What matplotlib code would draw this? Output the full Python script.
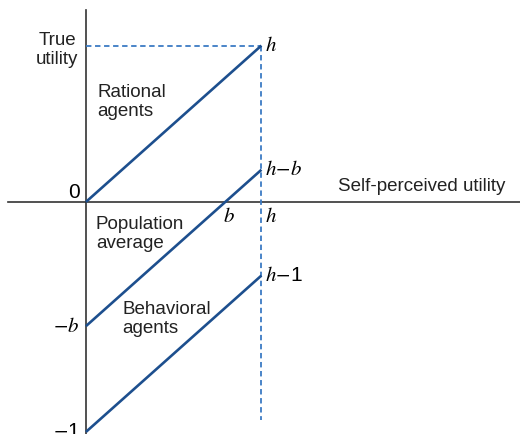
import matplotlib.pyplot as plt
import numpy as np

plt.rcParams['font.family'] = ['Liberation Sans', 'DejaVu Sans']
plt.rcParams['mathtext.fontset'] = 'stix'

# valores do modelo
h = 0.68
b = 0.54
grupos = ['Rational\nagents', 'Population\naverage', 'Behavioral\nagents']
interceptos = [0.0, -b, -1.0]
rotulos_fim = [r'$h$', r'$h\!-\!b$', r'$h\!-\!$1']
rotulos_eixo_y = [r'0', r'$-b$', r'$-$1']
pos_grupos = [(0.043, 0.435), (0.039, -0.139), (0.14, -0.509)]

azul = '#1d4f8e'
azul_tr = '#3b7bc4'
cinza = '#333333'

fig = plt.figure(figsize=(5.2, 4.34), dpi=100)
ax = fig.add_axes([0, 0, 1, 1])
ax.set_xlim(-0.333, 1.682)
ax.set_ylim(-1.009, 0.878)
ax.axis('off')

# eixos
ax.plot([-0.302, 1.682], [0, 0], color=cinza, lw=1.2)
ax.plot([0, 0], [-1.009, 0.835], color=cinza, lw=1.2)

# linhas tracejadas
ax.plot([0, h], [h, h], color=azul_tr, lw=1.3, ls=(0, (3, 2)))
ax.plot([h, h], [h, -0.948], color=azul_tr, lw=1.3, ls=(0, (3, 2)))

# retas
x = np.array([0, h])
for c in interceptos:
    ax.plot(x, x + c, color=azul, lw=1.9, solid_capstyle='butt')

for c, lab in zip(interceptos, rotulos_fim):
    ax.text(h + 0.015, h + c, lab, fontsize=15, ha='left', va='center')

for c, lab in zip(interceptos, rotulos_eixo_y):
    ax.text(-0.025, c, lab, fontsize=15, ha='right',
            va='bottom' if c == 0 else 'center')

for (gx, gy), g in zip(pos_grupos, grupos):
    ax.text(gx, gy, g, fontsize=13.5, ha='left', va='center', linespacing=1.12,
            color='#222222')

ax.text(-0.112, 0.66, 'True\nutility', fontsize=13.5, ha='center', va='center',
        linespacing=1.12, color='#222222')
ax.text(1.624, 0.065, 'Self-perceived utility', fontsize=13.5, ha='right',
        va='center', color='#222222')
ax.text(b - 0.01, -0.02, r'$b$', fontsize=15, ha='left', va='top')
ax.text(h + 0.012, -0.02, r'$h$', fontsize=15, ha='left', va='top')

plt.savefig('out.png', dpi=100)
